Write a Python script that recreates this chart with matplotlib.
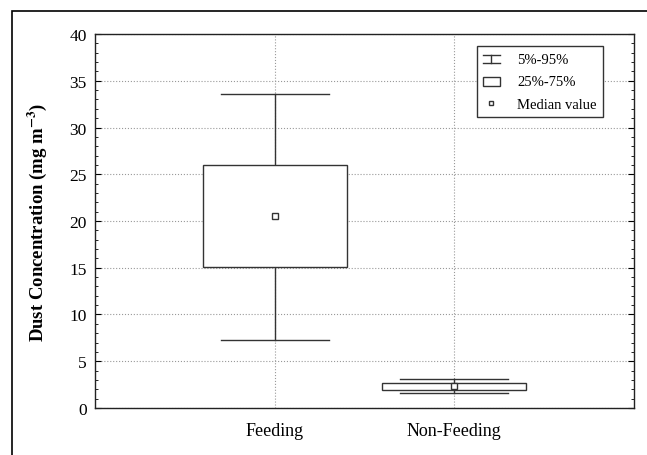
import matplotlib.pyplot as plt
from matplotlib.legend_handler import HandlerBase
from matplotlib.lines import Line2D
from matplotlib.patches import Rectangle
from matplotlib.ticker import MultipleLocator

plt.rcParams['font.family'] = ['Liberation Serif', 'DejaVu Serif']
plt.rcParams['mathtext.fontset'] = 'stix'

# dados
grupos = ['Feeding', 'Non-Feeding']
p05 = [7.3, 1.6]
p25 = [15.1, 1.95]
mediana = [20.5, 2.35]
p75 = [26.0, 2.65]
p95 = [33.6, 3.05]

yticks = [0, 5, 10, 15, 20, 25, 30, 35, 40]


class HandlerWhisker(HandlerBase):
    def create_artists(self, legend, orig, xd, yd, w, h, fontsize, trans):
        cx = xd + w / 2
        l1 = Line2D([xd, xd + w], [yd + h, yd + h], color='#333333', lw=1)
        l2 = Line2D([cx, cx], [yd, yd + h], color='#333333', lw=1)
        l3 = Line2D([xd, xd + w], [yd, yd], color='#333333', lw=1)
        for a in (l1, l2, l3):
            a.set_transform(trans)
        return [l1, l2, l3]


class HandlerBox(HandlerBase):
    def create_artists(self, legend, orig, xd, yd, w, h, fontsize, trans):
        r = Rectangle((xd, yd), w, h, facecolor='white',
                      edgecolor='#333333', lw=1, transform=trans)
        return [r]


fig = plt.figure(figsize=(6.47, 4.56), dpi=100)
ax = fig.add_axes([0.1468, 0.1031, 0.8332, 0.8201])

# moldura exterior
fig.patches.append(Rectangle((0.019, -0.1), 1.1, 1.074, transform=fig.transFigure,
                             fill=False, edgecolor='black', lw=1.2))

pos = [1, 2]
for i, x in enumerate(pos):
    ax.plot([x, x], [p05[i], p25[i]], color='#333333', lw=1, zorder=3)
    ax.plot([x, x], [p75[i], p95[i]], color='#333333', lw=1, zorder=3)
    ax.plot([x - 0.3, x + 0.3], [p05[i], p05[i]], color='#333333', lw=1, zorder=3)
    ax.plot([x - 0.3, x + 0.3], [p95[i], p95[i]], color='#333333', lw=1, zorder=3)
    ax.add_patch(Rectangle((x - 0.4, p25[i]), 0.8, p75[i] - p25[i], facecolor='white',
                           edgecolor='#333333', lw=1, zorder=3))
    ax.plot([x], [mediana[i]], marker='s', ms=4, mfc='white', mec='#333333',
            mew=1, zorder=4, linestyle='none')

ax.set_xlim(0, 3)
ax.set_ylim(0, 40)
ax.set_xticks(pos)
ax.set_xticklabels(grupos, fontsize=13)
ax.set_yticks(yticks)
ax.yaxis.set_minor_locator(MultipleLocator(1))
ax.tick_params(axis='y', labelsize=12.5, direction='in', right=True, length=4, pad=6)
ax.tick_params(axis='y', which='minor', direction='in', right=True, length=2)
ax.tick_params(axis='x', direction='in', length=0, pad=10)
ax.grid(True, linestyle=':', color='#999999', lw=0.8)
ax.set_axisbelow(True)
for s in ax.spines.values():
    s.set_linewidth(1)
    s.set_color('#222222')

ax.set_ylabel(r'Dust Concentration (mg m$^{\mathbf{-3}}$)', fontsize=13.5,
              fontweight='bold')
ax.yaxis.set_label_coords(-0.085, 0.5)

h1 = Line2D([], [])
h2 = Rectangle((0, 0), 1, 1)
h3 = Line2D([], [], marker='s', ms=3.5, mfc='white', mec='#333333', linestyle='none')
leg = ax.legend([h1, h2, h3], ['5%-95%', '25%-75%', 'Median value'],
                handler_map={h1: HandlerWhisker(), h2: HandlerBox()},
                loc='upper right', bbox_to_anchor=(0.9425, 0.968), borderaxespad=0,
                fontsize=10.5, fancybox=False, framealpha=1, edgecolor='#333333',
                handlelength=1.1, handleheight=0.55, handletextpad=1.2,
                borderpad=0.45, labelspacing=0.65)
leg.get_frame().set_linewidth(1)

fig.savefig('out.png', dpi=100)
